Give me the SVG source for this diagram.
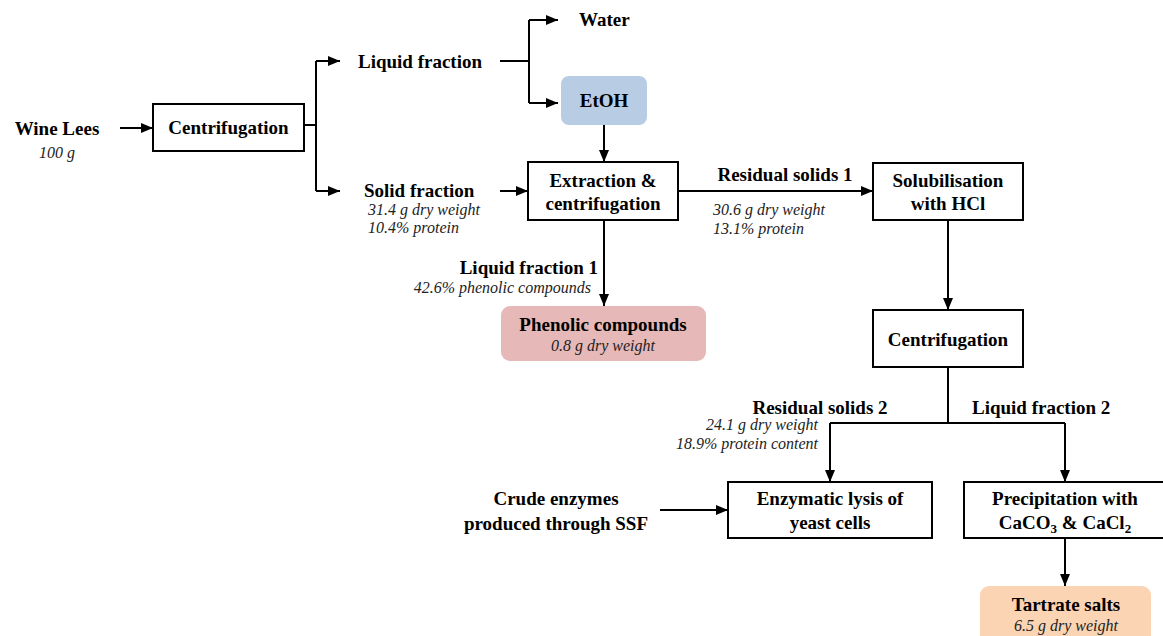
<svg xmlns="http://www.w3.org/2000/svg" width="1163" height="636" viewBox="0 0 1163 636">
<defs>
<marker id="ar" viewBox="0 0 12 10" refX="12" refY="5" markerWidth="12" markerHeight="10" markerUnits="userSpaceOnUse" orient="auto">
<path d="M0,0 L12,5 L0,10 Z" fill="#000"/>
</marker>
</defs>
<rect width="1163" height="636" fill="#fff"/>

<g id="connectors" fill="none" stroke="#000" stroke-width="2">
<path d="M120,128 H153" marker-end="url(#ar)"/>
<path d="M304,125 H316 M316,61 V191"/>
<path d="M316,61 H340" marker-end="url(#ar)"/>
<path d="M316,191 H340" marker-end="url(#ar)"/>
<path d="M500,61 H529 M529,20 V103"/>
<path d="M529,20 H558" marker-end="url(#ar)"/>
<path d="M529,103 H558" marker-end="url(#ar)"/>
<path d="M604,125 V162" marker-end="url(#ar)"/>
<path d="M500,191 H528" marker-end="url(#ar)"/>
<path d="M678,191 H873" marker-end="url(#ar)"/>
<path d="M604,220 V306" marker-end="url(#ar)"/>
<path d="M948,220 V310" marker-end="url(#ar)"/>
<path d="M948,367 V423 M830,423 H1065"/>
<path d="M830,423 V482" marker-end="url(#ar)"/>
<path d="M1065,423 V482" marker-end="url(#ar)"/>
<path d="M660,510 H728" marker-end="url(#ar)"/>
<path d="M1065,538 V586" marker-end="url(#ar)"/>
</g>

<g font-family="Times New Roman, serif" font-size="19">
<g id="wine-lees" text-anchor="middle">
<text x="57" y="135" font-weight="bold">Wine Lees</text>
<text x="57" y="158" font-style="italic" font-size="16" fill="#222">100 g</text>
</g>

<g id="centrifugation1">
<rect x="153" y="104" width="151" height="47" fill="#fff" stroke="#000" stroke-width="2"/>
<text x="228.5" y="134" font-weight="bold" text-anchor="middle">Centrifugation</text>
</g>

<g id="liquid-fraction">
<text x="358" y="68" font-weight="bold">Liquid fraction</text>
</g>

<g id="solid-fraction">
<text x="364" y="197" font-weight="bold">Solid fraction</text>
<text x="368" y="215" font-style="italic" font-size="16" fill="#222">31.4 g dry weight</text>
<text x="368" y="233" font-style="italic" font-size="16" fill="#222">10.4% protein</text>
</g>

<g id="water">
<text x="579" y="26" font-weight="bold">Water</text>
</g>

<g id="etoh">
<rect x="561" y="76" width="86" height="49" rx="8" fill="#b8cce4"/>
<text x="604" y="107" font-weight="bold" text-anchor="middle">EtOH</text>
</g>

<g id="extraction" text-anchor="middle">
<rect x="528" y="162" width="150" height="58" fill="#fff" stroke="#000" stroke-width="2"/>
<text x="603" y="187" font-weight="bold">Extraction &amp;</text>
<text x="603" y="210" font-weight="bold">centrifugation</text>
</g>

<g id="residual-solids-1">
<text x="785" y="181" font-weight="bold" text-anchor="middle">Residual solids 1</text>
<text x="713" y="215" font-style="italic" font-size="16" fill="#222">30.6 g dry weight</text>
<text x="713" y="234" font-style="italic" font-size="16" fill="#222">13.1% protein</text>
</g>

<g id="solubilisation" text-anchor="middle">
<rect x="873" y="163" width="150" height="57" fill="#fff" stroke="#000" stroke-width="2"/>
<text x="948" y="187" font-weight="bold">Solubilisation</text>
<text x="948" y="210" font-weight="bold">with HCl</text>
</g>

<g id="liquid-fraction-1" text-anchor="end">
<text x="598" y="274" font-weight="bold">Liquid fraction  1</text>
<text x="591" y="293" font-style="italic" font-size="16" fill="#222">42.6% phenolic compounds</text>
</g>

<g id="phenolic" text-anchor="middle">
<rect x="501" y="306" width="205" height="55" rx="9" fill="#e6b8b7"/>
<text x="603" y="331" font-weight="bold">Phenolic compounds</text>
<text x="603" y="351" font-style="italic" font-size="16" fill="#222">0.8 g dry weight</text>
</g>

<g id="centrifugation2">
<rect x="873" y="310" width="150" height="57" fill="#fff" stroke="#000" stroke-width="2"/>
<text x="948" y="346" font-weight="bold" text-anchor="middle">Centrifugation</text>
</g>

<g id="residual-solids-2">
<text x="820" y="414" font-weight="bold" text-anchor="middle">Residual solids 2</text>
<text x="818" y="430" font-style="italic" font-size="16" fill="#222" text-anchor="end">24.1 g dry weight</text>
<text x="818" y="449" font-style="italic" font-size="16" fill="#222" text-anchor="end">18.9% protein content</text>
</g>

<g id="liquid-fraction-2">
<text x="972" y="414" font-weight="bold">Liquid fraction  2</text>
</g>

<g id="crude-enzymes" text-anchor="middle">
<text x="556" y="505" font-weight="bold">Crude enzymes</text>
<text x="556" y="530" font-weight="bold">produced through SSF</text>
</g>

<g id="enzymatic" text-anchor="middle">
<rect x="728" y="482" width="204" height="56" fill="#fff" stroke="#000" stroke-width="2"/>
<text x="830" y="505" font-weight="bold">Enzymatic lysis of</text>
<text x="830" y="529" font-weight="bold">yeast cells</text>
</g>

<g id="precipitation" text-anchor="middle">
<rect x="964" y="482" width="210" height="56" fill="#fff" stroke="#000" stroke-width="2"/>
<text x="1065" y="505" font-weight="bold">Precipitation with</text>
<text x="1065" y="529" font-weight="bold">CaCO<tspan font-size="13" dy="4">3</tspan><tspan dy="-4"> &amp; CaCl</tspan><tspan font-size="13" dy="4">2</tspan></text>
</g>

<g id="tartrate" text-anchor="middle">
<rect x="980" y="586" width="171" height="70" rx="9" fill="#fbd4b4"/>
<text x="1066" y="611" font-weight="bold">Tartrate salts</text>
<text x="1066" y="631" font-style="italic" font-size="16" fill="#222">6.5 g dry weight</text>
</g>
</g>
</svg>
